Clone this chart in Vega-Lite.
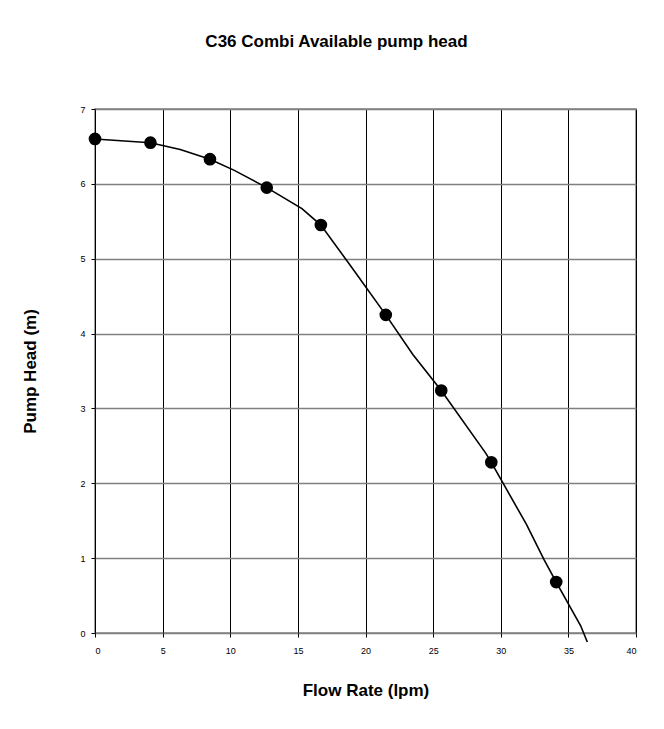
{
  "$schema": "https://vega.github.io/schema/vega-lite/v6.json",
  "width": 541,
  "height": 524,
  "autosize": {"type": "none"},
  "padding": {"left": 95, "top": 109, "right": 28, "bottom": 96},
  "background": "white",
  "title": {
    "text": "C36 Combi Available pump head",
    "font": "Liberation Sans",
    "fontSize": 17,
    "fontWeight": "bold",
    "color": "black",
    "anchor": "middle",
    "frame": "group",
    "dx": -29,
    "offset": 54
  },
  "config": {
    "font": "Liberation Sans",
    "view": {"stroke": "#808080", "strokeWidth": 1.5}
  },
  "datasets": {
    "curve": [
      {"flow": 0, "head": 6.6},
      {"flow": 4.1, "head": 6.55},
      {"flow": 6.3, "head": 6.46},
      {"flow": 8.5, "head": 6.33},
      {"flow": 10.3, "head": 6.18},
      {"flow": 12.7, "head": 5.95},
      {"flow": 15.3, "head": 5.67},
      {"flow": 16.7, "head": 5.45},
      {"flow": 19.0, "head": 4.88},
      {"flow": 21.5, "head": 4.25},
      {"flow": 23.5, "head": 3.72},
      {"flow": 25.6, "head": 3.24},
      {"flow": 28.9, "head": 2.4},
      {"flow": 29.3, "head": 2.28},
      {"flow": 31.9, "head": 1.45},
      {"flow": 33.2, "head": 0.98},
      {"flow": 34.1, "head": 0.68},
      {"flow": 35.9, "head": 0.1},
      {"flow": 36.4, "head": -0.12}
    ],
    "points": [
      {"flow": 0, "head": 6.6},
      {"flow": 4.1, "head": 6.55},
      {"flow": 8.5, "head": 6.33},
      {"flow": 12.7, "head": 5.95},
      {"flow": 16.7, "head": 5.45},
      {"flow": 21.5, "head": 4.25},
      {"flow": 25.6, "head": 3.24},
      {"flow": 29.3, "head": 2.28},
      {"flow": 34.1, "head": 0.68}
    ]
  },
  "encoding": {
    "x": {
      "field": "flow",
      "type": "quantitative",
      "scale": {"domain": [0, 40], "nice": false, "zero": false},
      "axis": {
        "title": "Flow Rate (lpm)",
        "titleFontSize": 17,
        "titleFontWeight": "bold",
        "titleColor": "black",
        "titlePadding": 27,
        "values": [0, 5, 10, 15, 20, 25, 30, 35, 40],
        "labelFontSize": 9,
        "labelColor": "black",
        "labelPadding": 9,
        "tickColor": "black",
        "tickSize": 4,
        "domain": false,
        "grid": true,
        "gridColor": "black",
        "gridWidth": 1,
        "gridOpacity": 1
      }
    },
    "y": {
      "field": "head",
      "type": "quantitative",
      "scale": {"domain": [0, 7], "nice": false, "zero": false},
      "axis": {
        "title": "Pump Head (m)",
        "titleFontSize": 17,
        "titleFontWeight": "bold",
        "titleColor": "black",
        "titlePadding": 40,
        "values": [0, 1, 2, 3, 4, 5, 6, 7],
        "labelFontSize": 9,
        "labelColor": "black",
        "labelPadding": 6,
        "tickColor": "black",
        "tickSize": 4,
        "domain": false,
        "grid": true,
        "gridColor": "#808080",
        "gridWidth": 1.5,
        "gridOpacity": 1
      }
    }
  },
  "layer": [
    {
      "data": {"name": "curve"},
      "mark": {"type": "line", "color": "black", "strokeWidth": 1.6, "interpolate": "linear", "clip": false}
    },
    {
      "data": {"name": "points"},
      "mark": {"type": "point", "shape": "circle", "filled": true, "color": "black", "opacity": 1, "size": 160}
    }
  ]
}
